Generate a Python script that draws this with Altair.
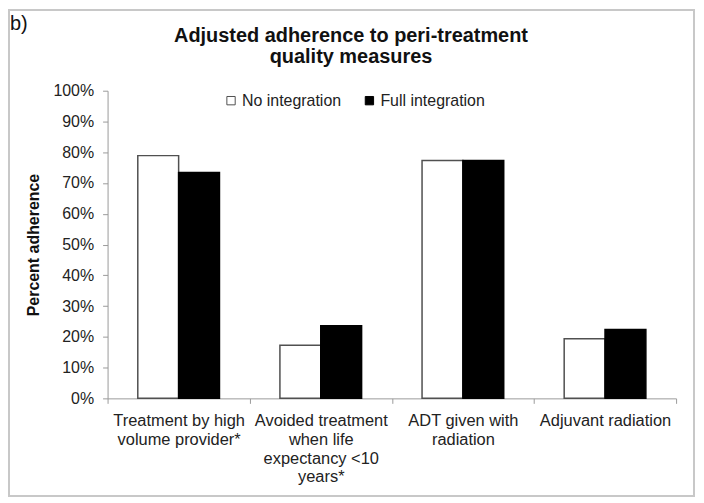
import altair as alt
import pandas as pd

categories = [
    "Treatment by high|volume provider*",
    "Avoided treatment|when life|expectancy <10|years*",
    "ADT given with|radiation",
    "Adjuvant radiation",
]
series = ["No integration", "Full integration"]
no_integration = [0.789, 0.173, 0.773, 0.194]
full_integration = [0.734, 0.236, 0.773, 0.224]
y_ticks = [0, 0.1, 0.2, 0.3, 0.4, 0.5, 0.6, 0.7, 0.8, 0.9, 1.0]
title_lines = ["Adjusted adherence to peri-treatment", "quality measures"]
y_title = "Percent adherence"
panel_label = "b)"

rows = []
for c, a, b in zip(categories, no_integration, full_integration):
    rows.append({"measure": c, "group": series[0], "value": a})
    rows.append({"measure": c, "group": series[1], "value": b})
df = pd.DataFrame(rows)

FONT = "Liberation Sans"
W, H = 571, 309

bars = alt.Chart(df).mark_bar(strokeWidth=1.5).encode(
    x=alt.X("measure:N", sort=categories, title=None,
            scale=alt.Scale(paddingInner=0, paddingOuter=0),
            axis=alt.Axis(labelExpr="split(datum.label, '|')", labelAngle=0,
                          tickBand="extent", tickSize=5, labelPadding=9,
                          labelFontSize=16.5, labelLineHeight=19, labelFont=FONT,
                          labelColor="#222222", domainColor="#9a9a9a",
                          tickColor="#9a9a9a", labelLimit=200)),
    xOffset=alt.XOffset("group:N", sort=series,
                        scale=alt.Scale(paddingInner=0, paddingOuter=0.74)),
    y=alt.Y("value:Q", title=y_title,
            scale=alt.Scale(domain=[0, 1], nice=False),
            axis=alt.Axis(values=y_ticks, format=".0%", grid=False, tickSize=5,
                          labelPadding=9, labelFontSize=16, labelFont=FONT,
                          labelColor="#222222", domainColor="#9a9a9a",
                          tickColor="#9a9a9a", titleFont=FONT, titleFontSize=16,
                          titleFontWeight="bold", titleColor="#111111",
                          titlePadding=11)),
    fill=alt.Fill("group:N", sort=series,
                  scale=alt.Scale(domain=series, range=["white", "black"]),
                  legend=alt.Legend(title=None, orient="none", legendX=116, legendY=2,
                                    direction="horizontal", symbolType="square",
                                    symbolSize=70, symbolStrokeColor="black",
                                    symbolStrokeWidth=1, labelFontSize=16,
                                    labelFont=FONT, labelColor="#222222",
                                    columnPadding=20, labelOffset=3)),
    stroke=alt.Stroke("group:N", sort=series,
                      scale=alt.Scale(domain=series, range=["#505050", "black"]),
                      legend=None),
)

label_df = pd.DataFrame({"t": [panel_label]})
frame = alt.Chart(label_df).mark_rect(filled=False, stroke="#c8c8c8", strokeWidth=2).encode(
    x=alt.value(-99), x2=alt.value(589), y=alt.value(-81), y2=alt.value(407)
)
panel = alt.Chart(label_df).mark_text(fontSize=20, font=FONT, color="#111111",
                                      align="left", baseline="middle").encode(
    text="t:N", x=alt.value(-98), y=alt.value(-67)
)

chart = alt.layer(frame, bars, panel).properties(
    width=W, height=H,
    autosize=alt.AutoSizeParams(type="none"),
    padding={"left": 100, "top": 82, "right": 20, "bottom": 99},
    title=alt.TitleParams(text=title_lines, font=FONT, fontSize=20, fontWeight="bold",
                          color="#111111", anchor="middle", dx=-41, offset=-58,
                          lineHeight=21),
).configure_view(stroke=None)

chart.save("out.html", embed_options={"renderer": "svg", "actions": False})
